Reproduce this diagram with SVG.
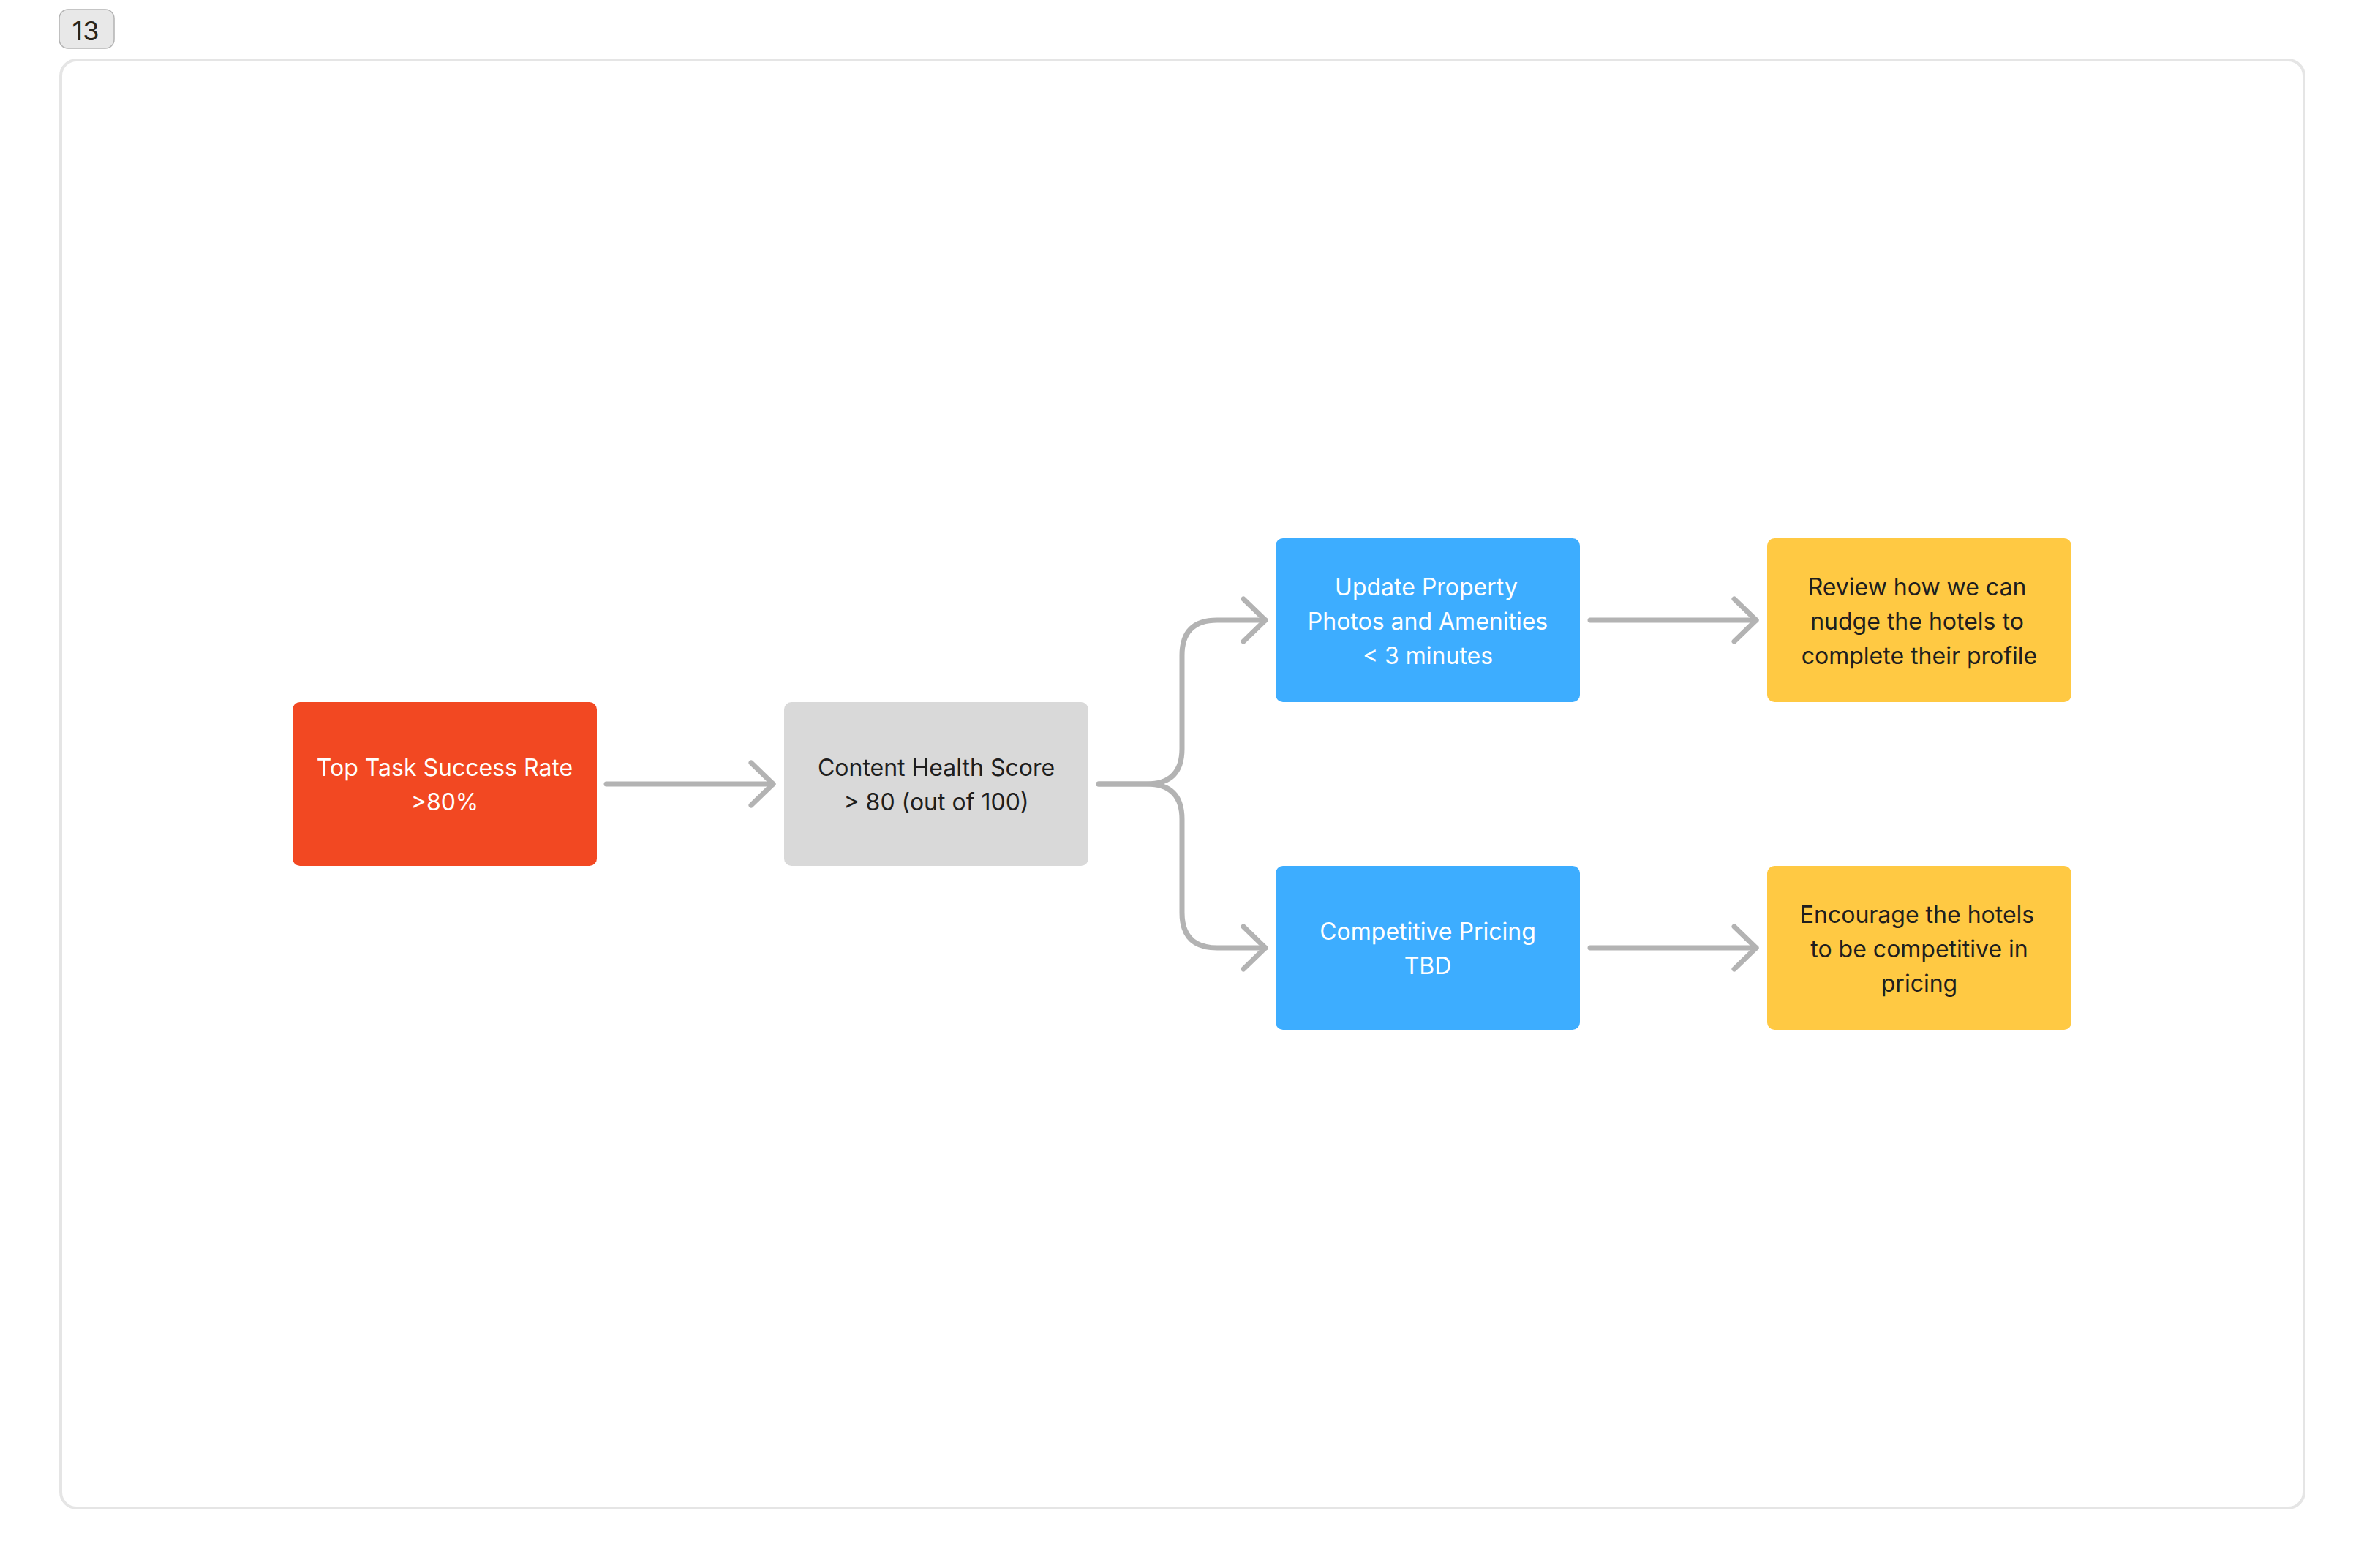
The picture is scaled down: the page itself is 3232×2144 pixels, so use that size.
<svg xmlns="http://www.w3.org/2000/svg" width="3232" height="2144" viewBox="0 0 3232 2144">
  <style>
    .node text { font-family: Inter, "Noto Sans", "Liberation Sans", sans-serif; font-size: 32px; text-anchor: middle; }
    .light text { fill: #ffffff; }
    .dark text { fill: #1e1e1e; }
    .conn { fill: none; stroke: #b3b3b3; stroke-width: 7; stroke-linecap: round; stroke-linejoin: round; }
  </style>
  <defs>
    <marker id="chev" viewBox="-36 -34 44 68" markerWidth="44" markerHeight="68" refX="0" refY="0" markerUnits="userSpaceOnUse" orient="auto">
      <path d="M-30,-29 L0,0 L-30,29" fill="none" stroke="#b3b3b3" stroke-width="7" stroke-linecap="round" stroke-linejoin="round"/>
    </marker>
  </defs>
  <rect width="3232" height="2144" fill="#ffffff"/>
  <g id="badge">
    <rect x="81" y="13" width="75" height="53" rx="12" fill="#e8e8e8" stroke="#b3b3b3" stroke-width="1.5"/>
    <text x="117" y="55" font-family="Inter, 'Noto Sans', 'Liberation Sans', sans-serif" font-size="36" fill="#2a2418" text-anchor="middle">13</text>
  </g>
  <g id="frame">
    <rect x="83" y="82" width="3067" height="1980" rx="22" fill="#ffffff" stroke="#e5e5e5" stroke-width="4"/>
  </g>
  <g id="connectors">
    <path class="conn" d="M829,1072 H1057" marker-end="url(#chev)"/>
    <path class="conn" d="M1502,1072 H1568 Q1616,1072 1616,1024 V896 Q1616,848 1664,848 H1730" marker-end="url(#chev)"/>
    <path class="conn" d="M1502,1072 H1568 Q1616,1072 1616,1120 V1248 Q1616,1296 1664,1296 H1730" marker-end="url(#chev)"/>
    <path class="conn" d="M2174,848 H2401" marker-end="url(#chev)"/>
    <path class="conn" d="M2174,1296 H2401" marker-end="url(#chev)"/>
  </g>
  <g id="node-top-task" class="node light">
    <rect x="400" y="960" width="416" height="224" rx="10" fill="#f24822"/>
    <text x="608" y="1061">Top Task Success Rate</text>
    <text x="608" y="1108">&gt;80%</text>
  </g>
  <g id="node-content-health" class="node dark">
    <rect x="1072" y="960" width="416" height="224" rx="10" fill="#d9d9d9"/>
    <text x="1280" y="1061">Content Health Score</text>
    <text x="1280" y="1108">&gt; 80 (out of 100)</text>
  </g>
  <g id="node-update-property" class="node light">
    <rect x="1744" y="736" width="416" height="224" rx="10" fill="#3dadff"/>
    <text x="1950" y="814">Update Property</text>
    <text x="1952" y="861">Photos and Amenities</text>
    <text x="1952" y="908">&lt; 3 minutes</text>
  </g>
  <g id="node-competitive-pricing" class="node light">
    <rect x="1744" y="1184" width="416" height="224" rx="10" fill="#3dadff"/>
    <text x="1952" y="1285">Competitive Pricing</text>
    <text x="1952" y="1332">TBD</text>
  </g>
  <g id="node-review" class="node dark">
    <rect x="2416" y="736" width="416" height="224" rx="10" fill="#ffc943"/>
    <text x="2621" y="814">Review how we can</text>
    <text x="2621" y="861">nudge the hotels to</text>
    <text x="2624" y="908">complete their profile</text>
  </g>
  <g id="node-encourage" class="node dark">
    <rect x="2416" y="1184" width="416" height="224" rx="10" fill="#ffc943"/>
    <text x="2621" y="1262">Encourage the hotels</text>
    <text x="2624" y="1309">to be competitive in</text>
    <text x="2624" y="1356">pricing</text>
  </g>
</svg>
